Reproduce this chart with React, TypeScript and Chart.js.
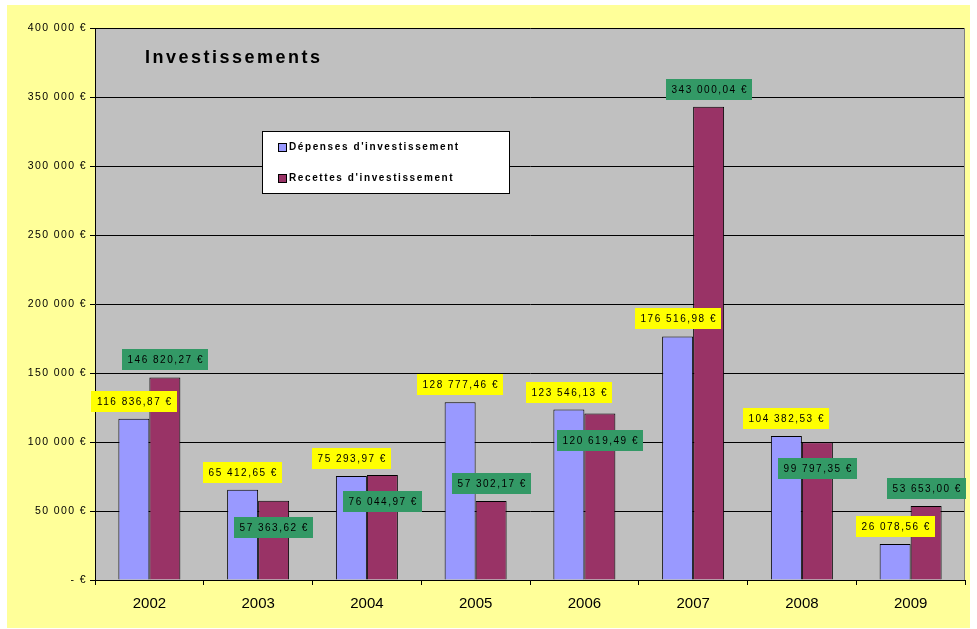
import React, { useEffect, useRef } from "react";
import { Chart, registerables } from "chart.js";

Chart.register(...registerables);

const years = ["2002", "2003", "2004", "2005", "2006", "2007", "2008", "2009"];
const depenses = [116836.87, 65412.65, 75293.97, 128777.46, 123546.13, 176516.98, 104382.53, 26078.56];
const recettes = [146820.27, 57363.62, 76044.97, 57302.17, 120619.49, 343000.04, 99797.35, 53653.0];
const seriesNames = ["Dépenses d'investissement", "Recettes d'investissement"];
const chartTitle = "Investissements";
const yMin = 0;
const yMax = 400000;
const yStep = 50000;

const FONT = '"Liberation Sans", Arial, sans-serif';
const BLUE = "#9999FF";
const RED = "#993366";
const LABEL_BG = ["#FFFF00", "#339966"];

function groupThousands(s: string) {
  return s.replace(/\B(?=(\d{3})+(?!\d))/g, " ");
}
function fmtEuro(v: number) {
  const [i, d] = v.toFixed(2).split(".");
  return `${groupThousands(i)},${d} €`;
}
function fmtTick(v: number) {
  if (v === 0) return "- €";
  return `${groupThousands(String(Math.round(v)))} €`;
}

type Box = { x: number; y: number; w: number; h: number };
function overlap(a: Box, b: Box) {
  return a.x < b.x + b.w && b.x < a.x + a.w && a.y < b.y + b.h && b.y < a.y + a.h;
}

const decor = {
  id: "decor",
  beforeDraw(chart: any) {
    const { ctx, chartArea: a } = chart;
    ctx.save();
    ctx.fillStyle = "#FFFF99";
    ctx.fillRect(0, 0, chart.width, chart.height);
    ctx.fillStyle = "#C0C0C0";
    ctx.fillRect(a.left, a.top, a.right - a.left, a.bottom - a.top);
    ctx.restore();
  },
  beforeDatasetsDraw(chart: any) {
    const { ctx, chartArea: a } = chart;
    ctx.save();
    ctx.strokeStyle = "#808080";
    ctx.lineWidth = 1;
    ctx.beginPath();
    const rx = Math.round(a.right) - 0.5;
    ctx.moveTo(rx, a.top);
    ctx.lineTo(rx, a.bottom);
    ctx.stroke();
    ctx.restore();
  },
  afterDatasetsDraw(chart: any) {
    const { ctx, chartArea: a } = chart;
    const ys = chart.scales.y;
    ctx.save();

    // Y tick labels
    ctx.font = `10.5px ${FONT}`;
    (ctx as any).letterSpacing = "1.4px";
    ctx.fillStyle = "#000";
    ctx.textAlign = "right";
    ctx.textBaseline = "middle";
    ys.ticks.forEach((t: any) => {
      ctx.fillText(fmtTick(t.value), a.left - 8, ys.getPixelForValue(t.value));
    });

    // Title
    ctx.font = `bold 18px ${FONT}`;
    (ctx as any).letterSpacing = "2.5px";
    ctx.textAlign = "left";
    ctx.textBaseline = "alphabetic";
    ctx.fillText(chartTitle, a.left + 50, a.top + 35);

    // Legend
    const lx = a.left + 167;
    const ly = a.top + 103;
    const lw = 247;
    const lh = 62;
    ctx.fillStyle = "#FFFFFF";
    ctx.fillRect(lx, ly, lw, lh);
    ctx.strokeStyle = "#000";
    ctx.lineWidth = 1;
    ctx.strokeRect(Math.round(lx) + 0.5, Math.round(ly) + 0.5, lw, lh);
    ctx.font = `bold 10px ${FONT}`;
    (ctx as any).letterSpacing = "1.6px";
    ctx.textBaseline = "middle";
    [BLUE, RED].forEach((c, k) => {
      const sy = Math.round(ly + 12 + k * 31);
      ctx.fillStyle = c;
      ctx.fillRect(Math.round(lx) + 16, sy, 8, 8);
      ctx.strokeStyle = "#000";
      ctx.strokeRect(Math.round(lx) + 16.5, sy + 0.5, 8, 8);
      ctx.fillStyle = "#000";
      ctx.fillText(seriesNames[k], lx + 27, sy + 4.5);
    });

    // Data labels
    ctx.font = `10px ${FONT}`;
    (ctx as any).letterSpacing = "1.5px";
    ctx.textAlign = "center";
    ctx.textBaseline = "middle";
    const m0 = chart.getDatasetMeta(0).data;
    const m1 = chart.getDatasetMeta(1).data;
    const h = 21;
    const gap = 7;
    const drawBox = (b: Box, bg: string, text: string) => {
      ctx.fillStyle = bg;
      ctx.fillRect(b.x, b.y, b.w, b.h);
      ctx.fillStyle = "#000";
      ctx.fillText(text, b.x + b.w / 2 + 0.75, b.y + b.h / 2 + 0.5);
    };
    years.forEach((_, i) => {
      const e0 = m0[i];
      const e1 = m1[i];
      const t0 = fmtEuro(depenses[i]);
      const t1 = fmtEuro(recettes[i]);
      const w0 = Math.round(ctx.measureText(t0).width + 10);
      const w1 = Math.round(ctx.measureText(t1).width + 10);
      const b0: Box = { x: Math.round(e0.x - w0 / 2), y: Math.round(e0.y - gap - h), w: w0, h };
      let b1: Box = { x: Math.round(e1.x - w1 / 2), y: Math.round(e1.y - gap - h), w: w1, h };
      if (overlap(b0, b1)) {
        b1 = { ...b1, y: Math.round(e1.y + 16) };
      }
      drawBox(b0, LABEL_BG[0], t0);
      drawBox(b1, LABEL_BG[1], t1);
    });

    ctx.restore();
  },
};

export default function App() {
  const ref = useRef<HTMLCanvasElement>(null);
  useEffect(() => {
    const chart = new Chart(ref.current!, {
      type: "bar",
      data: {
        labels: years,
        datasets: [
          {
            label: seriesNames[0],
            data: depenses,
            backgroundColor: BLUE,
            borderColor: "#000",
            borderWidth: 1,
            categoryPercentage: 0.57,
            barPercentage: 1,
          },
          {
            label: seriesNames[1],
            data: recettes,
            backgroundColor: RED,
            borderColor: "#000",
            borderWidth: 1,
            categoryPercentage: 0.57,
            barPercentage: 1,
          },
        ],
      },
      options: {
        responsive: false,
        animation: false,
        devicePixelRatio: 1,
        layout: { padding: { top: 23, right: 5, left: 0, bottom: 0 } },
        plugins: {
          legend: { display: false },
          tooltip: { enabled: false },
          title: { display: false },
        },
        scales: {
          x: {
            grid: {
              display: true,
              drawOnChartArea: false,
              drawTicks: true,
              tickLength: 5,
              color: "#000",
              offset: true,
            },
            border: { display: true, color: "#000", width: 1 },
            ticks: {
              color: "#000",
              font: { family: FONT, size: 15 },
              padding: 10,
              maxRotation: 0,
            },
            afterFit: (s: any) => {
              s.height = 48;
            },
          },
          y: {
            min: yMin,
            max: yMax,
            ticks: { stepSize: yStep, display: false },
            grid: {
              color: "#000",
              drawTicks: true,
              tickLength: 5,
              lineWidth: 1,
            },
            border: { display: true, color: "#000", width: 1 },
            afterFit: (s: any) => {
              s.width = 88;
            },
          },
        },
      },
      plugins: [decor],
    } as any);
    return () => chart.destroy();
  }, []);
  return (
    <div style={{ position: "absolute", left: 7, top: 5, width: 963, height: 623 }}>
      <canvas ref={ref} width={963} height={623} style={{ display: "block", width: 963, height: 623 }} />
    </div>
  );
}
